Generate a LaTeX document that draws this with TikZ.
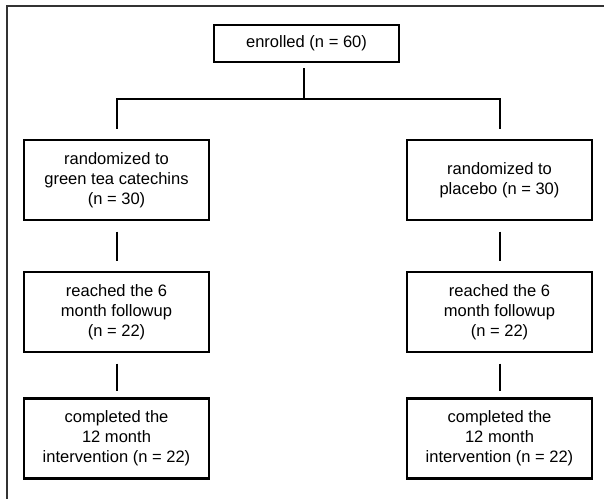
\documentclass[tikz,border=0pt]{standalone}
\usepackage{fontspec}
\setmainfont{Liberation Sans}
\usepackage{tikz}

\tikzset{
  stage/.style={draw=black, line width=1.6pt, minimum width=185*0.75pt, minimum height=80*0.75pt,
    inner sep=0pt, align=center, font=\fontsize{12.4}{15}\selectfont},
  link/.style={draw=black, line width=1.5pt},
}

\begin{document}
\begin{tikzpicture}[x=0.75pt,y=-0.75pt]
				\useasboundingbox (0,0) rectangle (604,499);
				\draw[line width=1.1pt, black!80] (7,499) -- (7,6) -- (604,6);
				% top of the chart
				\node[stage, minimum height=37*0.75pt] (enrol) at (306.5,43.5) {enrolled (n = 60)};
				% green tea arm
				\node[stage] (gtc) at (116.5,180) {randomized to\\green tea catechins\\(n = 30)};
				\node[stage] (gtcsix) at (116.5,312) {reached the 6\\month followup\\(n = 22)};
				\node[stage] (gtcend) at (116.5,438.5) {completed the\\12 month\\intervention (n = 22)};
				% placebo arm
				\node[stage] (plc) at (499.5,180) {randomized to\\placebo (n = 30)};
				\node[stage] (plcsix) at (499.5,312) {reached the 6\\month followup\\(n = 22)};
				\node[stage] (plcend) at (499.5,438.5) {completed the\\12 month\\intervention (n = 22)};
				\draw[link, shorten <=3.75pt] ([xshift=-1.9pt]enrol.south) -- ++(0,36) coordinate (split);
				\draw[link, shorten <=7.5pt, shorten >=7.5pt] (gtc.north) -- (gtc.north |- split) -- (plc.north |- split) -- (plc.north);
				\draw[link, shorten <=8pt, shorten >=7.5pt] (gtc) -- (gtcsix);
				\draw[link, shorten <=8pt, shorten >=5pt] (gtcsix) -- (gtcend);
				\draw[link, shorten <=8pt, shorten >=7.5pt] (plc) -- (plcsix);
				\draw[link, shorten <=8pt, shorten >=5pt] (plcsix) -- (plcend);
			\end{tikzpicture}
\end{document}
